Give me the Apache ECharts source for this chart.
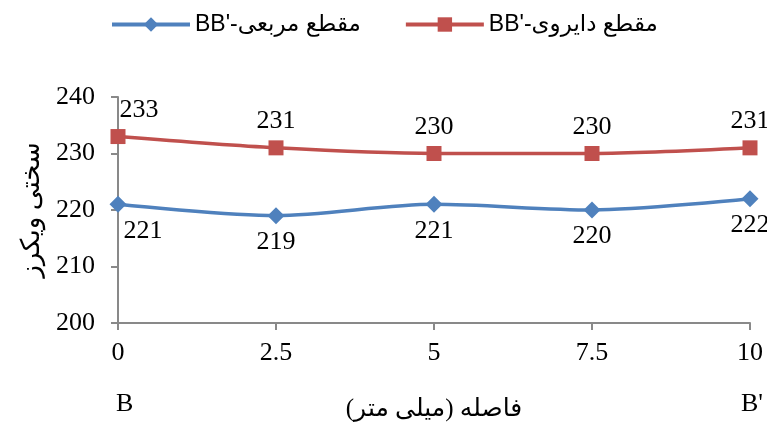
<!DOCTYPE html>
<html><head><meta charset="utf-8">
<script src="https://cdn.jsdelivr.net/npm/echarts@6/dist/echarts.min.js"></script>
<style>html,body{margin:0;padding:0;background:#fff}#c{width:767px;height:436px}</style>
</head><body><div id="c"></div>
<script>
const categories = ['0', '2.5', '5', '7.5', '10'];
const squareValues = [221, 219, 221, 220, 222];
const circularValues = [233, 231, 230, 230, 231];
const seriesNames = ["BB'-مقطع مربعی", "BB'-مقطع دایروی"];
const xAxisTitle = '\u202Bفاصله (میلی متر)\u202C';
const yAxisTitle = 'سختی ویکرز';

const serif = '"Liberation Serif", "Times New Roman", "DejaVu Sans", serif';
const sans = '"Liberation Sans", Arial, "DejaVu Sans", sans-serif';

function mk(vals, firstOffset) {
  return vals.map((v, i) => i === 0 ? { value: v, label: { offset: firstOffset } } : v);
}

const chart = echarts.init(document.getElementById('c'), null, { renderer: 'canvas' });
chart.setOption({
  animation: false,
  backgroundColor: '#fff',
  legend: {
    top: 8, left: 105, itemGap: 43,
    itemWidth: 78, itemHeight: 18,
    lineStyle: { width: 4 },
    textStyle: { fontFamily: sans, fontSize: 23, color: '#000' },
    data: seriesNames
  },
  grid: { left: 118, right: 17, top: 97, bottom: 113, containLabel: false },
  xAxis: {
    type: 'category', data: categories, boundaryGap: false,
    axisLine: { lineStyle: { color: '#898989', width: 2 } },
    axisTick: { show: true, length: 7, lineStyle: { color: '#898989', width: 2 }, alignWithLabel: true },
    axisLabel: { fontFamily: serif, fontSize: 26, color: '#000', margin: 17 },
    name: xAxisTitle, nameLocation: 'middle', nameGap: 74,
    nameTextStyle: { fontFamily: serif, fontSize: 25, color: '#000' },
    splitLine: { show: false }
  },
  yAxis: {
    type: 'value', min: 200, max: 240, interval: 10,
    axisLine: { show: true, lineStyle: { color: '#898989', width: 2 } },
    axisTick: { show: true, length: 7, lineStyle: { color: '#898989', width: 2 } },
    axisLabel: { fontFamily: serif, fontSize: 26, color: '#000', margin: 23 },
    splitLine: { show: false },
    name: yAxisTitle, nameLocation: 'middle', nameGap: 66,
    nameTextStyle: { fontFamily: serif, fontSize: 26, color: '#000' }
  },
  series: [
    {
      name: seriesNames[0], type: 'line', smooth: 0.3,
      data: mk(squareValues, [25, 0]),
      symbol: 'diamond', symbolSize: 17,
      itemStyle: { color: '#4F81BD' },
      lineStyle: { color: '#4F81BD', width: 3.5 },
      label: { show: true, position: 'bottom', distance: 5, fontFamily: serif, fontSize: 26, color: '#000' }
    },
    {
      name: seriesNames[1], type: 'line', smooth: 0.3,
      data: mk(circularValues, [21, 0]),
      symbol: 'rect', symbolSize: 15,
      itemStyle: { color: '#C0504D' },
      lineStyle: { color: '#C0504D', width: 3.5 },
      label: { show: true, position: 'top', distance: 6, fontFamily: serif, fontSize: 26, color: '#000' }
    }
  ],
  graphic: [
    { type: 'text', left: 116, top: 391, style: { text: 'B', font: '26px ' + serif, fill: '#000' } },
    { type: 'text', left: 741, top: 391, style: { text: "B'", font: '26px ' + serif, fill: '#000' } }
  ]
});
</script></body></html>
